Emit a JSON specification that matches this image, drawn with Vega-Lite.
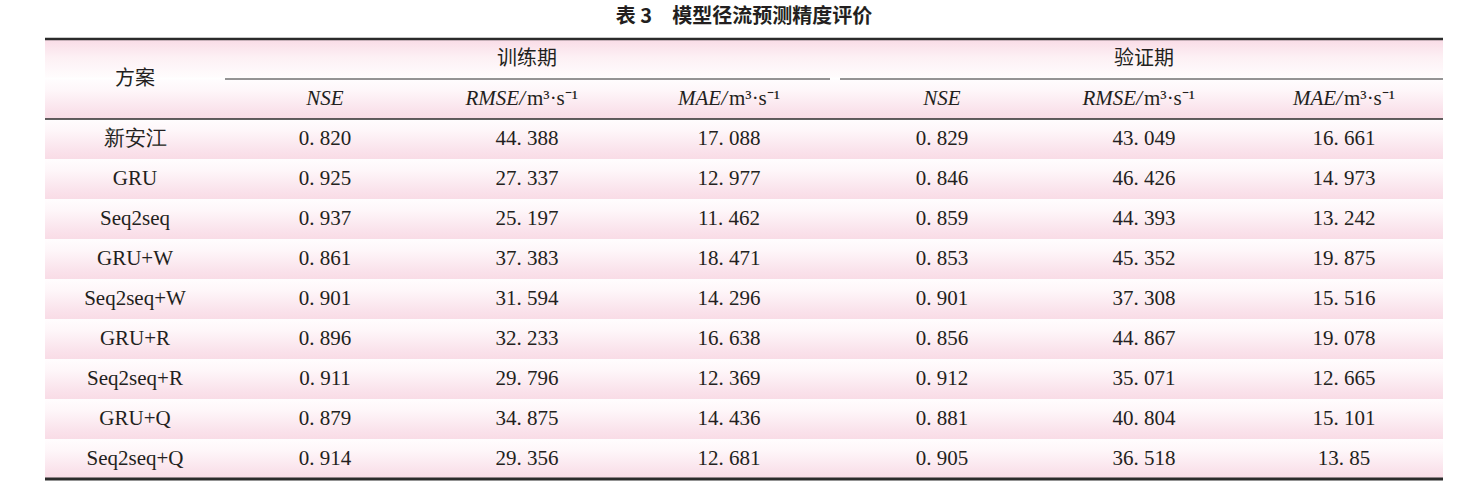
{
  "$schema": "https://vega.github.io/schema/vega-lite/v6.json",
  "autosize": {"type": "none"},
  "width": 1398,
  "height": 440,
  "padding": {"left": 45, "top": 39, "right": 37, "bottom": 17},
  "background": "white",
  "config": {"view": {"stroke": null}},
  "title": {
    "text": "表 3　模型径流预测精度评价",
    "font": "Noto Sans CJK SC",
    "fontSize": 20,
    "fontWeight": "bold",
    "color": "#231f20",
    "anchor": "middle",
    "offset": 11
  },
  "datasets": {
    "table": [
      {"scheme": "新安江", "NSE_t": "0.820", "RMSE_t": "44.388", "MAE_t": "17.088", "NSE_v": "0.829", "RMSE_v": "43.049", "MAE_v": "16.661"},
      {"scheme": "GRU", "NSE_t": "0.925", "RMSE_t": "27.337", "MAE_t": "12.977", "NSE_v": "0.846", "RMSE_v": "46.426", "MAE_v": "14.973"},
      {"scheme": "Seq2seq", "NSE_t": "0.937", "RMSE_t": "25.197", "MAE_t": "11.462", "NSE_v": "0.859", "RMSE_v": "44.393", "MAE_v": "13.242"},
      {"scheme": "GRU+W", "NSE_t": "0.861", "RMSE_t": "37.383", "MAE_t": "18.471", "NSE_v": "0.853", "RMSE_v": "45.352", "MAE_v": "19.875"},
      {"scheme": "Seq2seq+W", "NSE_t": "0.901", "RMSE_t": "31.594", "MAE_t": "14.296", "NSE_v": "0.901", "RMSE_v": "37.308", "MAE_v": "15.516"},
      {"scheme": "GRU+R", "NSE_t": "0.896", "RMSE_t": "32.233", "MAE_t": "16.638", "NSE_v": "0.856", "RMSE_v": "44.867", "MAE_v": "19.078"},
      {"scheme": "Seq2seq+R", "NSE_t": "0.911", "RMSE_t": "29.796", "MAE_t": "12.369", "NSE_v": "0.912", "RMSE_v": "35.071", "MAE_v": "12.665"},
      {"scheme": "GRU+Q", "NSE_t": "0.879", "RMSE_t": "34.875", "MAE_t": "14.436", "NSE_v": "0.881", "RMSE_v": "40.804", "MAE_v": "15.101"},
      {"scheme": "Seq2seq+Q", "NSE_t": "0.914", "RMSE_t": "29.356", "MAE_t": "12.681", "NSE_v": "0.905", "RMSE_v": "36.518", "MAE_v": "13.85"}
    ],
    "heads": [
      {"row": "h1", "col": 0, "label": "方案", "unit": ""},
      {"row": "h1", "col": 2, "label": "训练期", "unit": ""},
      {"row": "h1", "col": 5, "label": "验证期", "unit": ""},
      {"row": "h2", "col": 1, "label": "NSE", "unit": ""},
      {"row": "h2", "col": 2, "label": "RMSE/", "unit": "m³·s⁻¹"},
      {"row": "h2", "col": 3, "label": "MAE/", "unit": "m³·s⁻¹"},
      {"row": "h2", "col": 4, "label": "NSE", "unit": ""},
      {"row": "h2", "col": 5, "label": "RMSE/", "unit": "m³·s⁻¹"},
      {"row": "h2", "col": 6, "label": "MAE/", "unit": "m³·s⁻¹"}
    ],
    "rules": [
      {"line": "top"}
    ]
  },
  "layer": [
    {
      "data": {"name": "heads"},
      "transform": [{"filter": "datum.col == 0"}],
      "mark": {
        "type": "rect",
        "color": {
          "gradient": "linear", "x1": 0, "y1": 0, "x2": 0, "y2": 1,
          "stops": [
            {"offset": 0, "color": "#f9dbe6"},
            {"offset": 0.45, "color": "#fdf0f4"},
            {"offset": 0.95, "color": "#fffcfd"},
            {"offset": 1, "color": "#ffffff"}
          ]
        }
      },
      "encoding": {
        "x": {"datum": -0.5, "type": "quantitative", "scale": {"type": "linear", "domain": [-0.5, 0, 0.5, 1, 2, 3, 3.5, 4, 5, 6, 6.5], "range": [0, 90, 180, 280, 482, 684, 790, 897, 1099, 1299, 1398], "zero": false, "nice": false}, "axis": null},
        "x2": {"datum": 6.5},
        "y": {"field": "row", "type": "nominal", "scale": {"type": "band", "domain": ["h1", "h2", "新安江", "GRU", "Seq2seq", "GRU+W", "Seq2seq+W", "GRU+R", "Seq2seq+R", "GRU+Q", "Seq2seq+Q"], "paddingInner": 0, "paddingOuter": 0}, "axis": null}
      }
    },
    {
      "data": {"name": "heads"},
      "transform": [{"filter": "datum.col == 1"}],
      "mark": {
        "type": "rect",
        "color": {
          "gradient": "linear", "x1": 0, "y1": 0, "x2": 0, "y2": 1,
          "stops": [
            {"offset": 0, "color": "#fffdfe"},
            {"offset": 0.3, "color": "#fef6f9"},
            {"offset": 0.8, "color": "#fae2eb"},
            {"offset": 1, "color": "#f9dce6"}
          ]
        }
      },
      "encoding": {
        "x": {"datum": -0.5, "type": "quantitative", "scale": {"type": "linear", "domain": [-0.5, 0, 0.5, 1, 2, 3, 3.5, 4, 5, 6, 6.5], "range": [0, 90, 180, 280, 482, 684, 790, 897, 1099, 1299, 1398], "zero": false, "nice": false}, "axis": null},
        "x2": {"datum": 6.5},
        "y": {"field": "row", "type": "nominal", "scale": {"type": "band", "domain": ["h1", "h2", "新安江", "GRU", "Seq2seq", "GRU+W", "Seq2seq+W", "GRU+R", "Seq2seq+R", "GRU+Q", "Seq2seq+Q"], "paddingInner": 0, "paddingOuter": 0}, "axis": null}
      }
    },
    {
      "data": {"name": "table"},
      "mark": {
        "type": "rect",
        "color": {
          "gradient": "linear", "x1": 0, "y1": 0, "x2": 0, "y2": 1,
          "stops": [
            {"offset": 0, "color": "#fffdfe"},
            {"offset": 0.3, "color": "#fef6f9"},
            {"offset": 0.8, "color": "#fae2eb"},
            {"offset": 1, "color": "#f9dce6"}
          ]
        }
      },
      "encoding": {
        "x": {"datum": -0.5, "type": "quantitative", "scale": {"type": "linear", "domain": [-0.5, 0, 0.5, 1, 2, 3, 3.5, 4, 5, 6, 6.5], "range": [0, 90, 180, 280, 482, 684, 790, 897, 1099, 1299, 1398], "zero": false, "nice": false}, "axis": null},
        "x2": {"datum": 6.5},
        "y": {"field": "scheme", "type": "nominal", "scale": {"type": "band", "domain": ["h1", "h2", "新安江", "GRU", "Seq2seq", "GRU+W", "Seq2seq+W", "GRU+R", "Seq2seq+R", "GRU+Q", "Seq2seq+Q"], "paddingInner": 0, "paddingOuter": 0}, "axis": null}
      }
    },
    {
      "data": {"name": "rules"},
      "mark": {"type": "rule", "color": "#2b2b2b", "strokeWidth": 2.5},
      "encoding": {
        "x": {"datum": -0.5, "type": "quantitative"},
        "x2": {"datum": 6.5},
        "y": {"datum": "h1", "type": "nominal", "bandPosition": 0}
      }
    },
    {
      "data": {"name": "rules"},
      "mark": {"type": "rule", "color": "#2b2b2b", "strokeWidth": 1.4},
      "encoding": {
        "x": {"datum": -0.5, "type": "quantitative"},
        "x2": {"datum": 6.5},
        "y": {"datum": "h2", "type": "nominal", "bandPosition": 1}
      }
    },
    {
      "data": {"name": "rules"},
      "mark": {"type": "rule", "color": "#2b2b2b", "strokeWidth": 3},
      "encoding": {
        "x": {"datum": -0.5, "type": "quantitative"},
        "x2": {"datum": 6.5},
        "y": {"datum": "Seq2seq+Q", "type": "nominal", "bandPosition": 1}
      }
    },
    {
      "data": {"name": "rules"},
      "mark": {"type": "rule", "color": "#2b2b2b", "strokeWidth": 1.2, "x2Offset": -5},
      "encoding": {
        "x": {"datum": 0.5, "type": "quantitative"},
        "x2": {"datum": 3.5},
        "y": {"datum": "h1", "type": "nominal", "bandPosition": 1}
      }
    },
    {
      "data": {"name": "rules"},
      "mark": {"type": "rule", "color": "#2b2b2b", "strokeWidth": 1.2, "xOffset": 5},
      "encoding": {
        "x": {"datum": 3.5, "type": "quantitative"},
        "x2": {"datum": 6.5},
        "y": {"datum": "h1", "type": "nominal", "bandPosition": 1}
      }
    },
    {
      "data": {"name": "heads"},
      "transform": [{"filter": "datum.row == 'h1' && datum.col > 0"}],
      "mark": {"type": "text", "font": "Noto Sans CJK SC", "fontSize": 20, "color": "#231f20", "baseline": "middle"},
      "encoding": {
        "x": {"field": "col", "type": "quantitative"},
        "y": {"field": "row", "type": "nominal"},
        "text": {"field": "label"}
      }
    },
    {
      "data": {"name": "heads"},
      "transform": [{"filter": "datum.col == 0"}],
      "mark": {"type": "text", "font": "Noto Sans CJK SC", "fontSize": 20, "color": "#231f20", "baseline": "middle"},
      "encoding": {
        "x": {"field": "col", "type": "quantitative"},
        "y": {"field": "row", "type": "nominal", "bandPosition": 1},
        "text": {"field": "label"}
      }
    },
    {
      "data": {"name": "heads"},
      "transform": [{"filter": "datum.row == 'h2' && datum.unit == ''"}],
      "mark": {"type": "text", "font": "Liberation Serif", "fontStyle": "italic", "fontSize": 21, "color": "#231f20", "baseline": "middle"},
      "encoding": {
        "x": {"field": "col", "type": "quantitative"},
        "y": {"field": "row", "type": "nominal"},
        "text": {"field": "label"}
      }
    },
    {
      "data": {"name": "heads"},
      "transform": [{"filter": "datum.row == 'h2' && datum.unit != ''"}],
      "mark": {"type": "text", "font": "Liberation Serif", "fontStyle": "italic", "fontSize": 21, "color": "#231f20", "baseline": "middle", "align": "right", "dx": -2},
      "encoding": {
        "x": {"field": "col", "type": "quantitative"},
        "y": {"field": "row", "type": "nominal"},
        "text": {"field": "label"}
      }
    },
    {
      "data": {"name": "heads"},
      "transform": [{"filter": "datum.row == 'h2' && datum.unit != ''"}],
      "mark": {"type": "text", "font": "Liberation Serif", "fontSize": 21, "color": "#231f20", "baseline": "middle", "align": "left", "dx": 0},
      "encoding": {
        "x": {"field": "col", "type": "quantitative"},
        "y": {"field": "row", "type": "nominal"},
        "text": {"field": "unit"}
      }
    },
    {
      "data": {"name": "table"},
      "transform": [
        {"fold": ["scheme", "NSE_t", "RMSE_t", "MAE_t", "NSE_v", "RMSE_v", "MAE_v"], "as": ["key", "value"]},
        {"calculate": "indexof(['scheme', 'NSE_t', 'RMSE_t', 'MAE_t', 'NSE_v', 'RMSE_v', 'MAE_v'], datum.key)", "as": "col"},
        {"calculate": "datum.col == 0 ? datum.value : replace(datum.value, '.', '. ')", "as": "label"}
      ],
      "mark": {"type": "text", "font": "Liberation Serif", "fontSize": 21, "color": "#231f20", "baseline": "middle"},
      "encoding": {
        "x": {"field": "col", "type": "quantitative"},
        "y": {"field": "scheme", "type": "nominal"},
        "text": {"field": "label"}
      }
    }
  ]
}
